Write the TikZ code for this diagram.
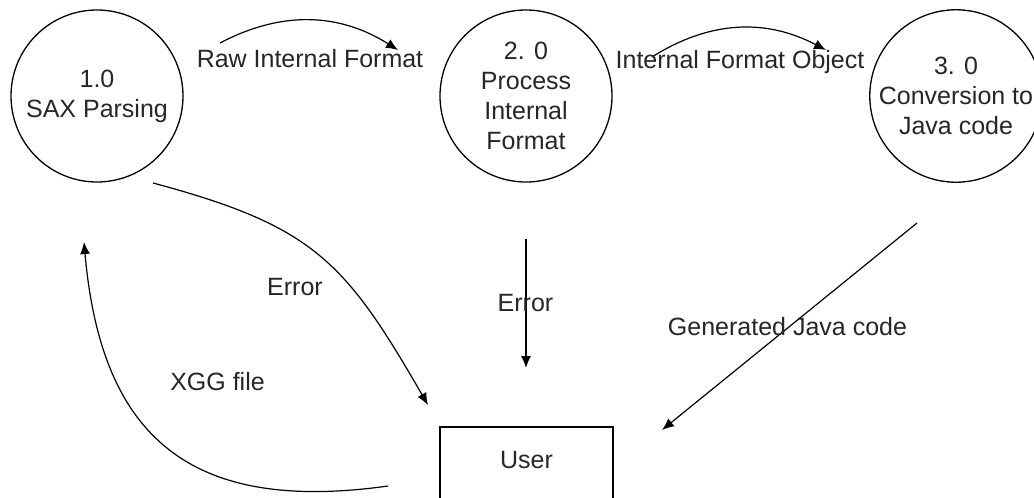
\documentclass[tikz,border=0pt]{standalone}
\usepackage{fontspec}
\setmainfont{Liberation Sans}
\usetikzlibrary{arrows.meta}
\begin{document}
\begin{tikzpicture}[
  x=1pt, y=1pt, font=\fontsize{25}{30}\selectfont, text=black!85,
  proc/.style={draw, circle, line width=1.3pt, minimum size=172pt, inner sep=0pt, align=center},
  ent/.style={draw, line width=1.3pt, minimum width=173pt, minimum height=76pt, text depth=10pt},
  lbl/.style={text height=18pt, text depth=6pt, inner sep=0pt},
  flow/.style={-{Latex[length=12pt,width=10pt]}, line width=1.2pt}
]
\clip (0,0) rectangle (1034,-498);

%% Processes
\node[proc] (sax) at (97,-96) {1.0\\SAX Parsing};
\node[proc] (proc) at (526,-96) {2. 0\\Process\\Internal\\Format};
\node[proc] (conv) at (956,-96) {3. 0\\Conversion to\\Java code};

%% External entity
\node[ent] (user) at (526.5,-465) {User};

%% Flow end points
\coordinate (rawS) at (220,-43);
\coordinate (rawE) at (398,-50);
\coordinate (objS) at (652,-57);
\coordinate (objE) at (826,-50);
\coordinate (errS) at (153,-183);
\coordinate (errE) at (428,-405);
\coordinate (perrS) at (526,-239);
\coordinate (perrE) at (526,-368);
\coordinate (javaS) at (917,-223);
\coordinate (javaE) at (662,-430);
\coordinate (xggS) at (388,-486);
\coordinate (xggE) at (84,-242);

%% Flows
\draw[flow] (rawS) to[bend left=30] (rawE);
\draw[flow] (objS) to[bend left=30] (objE);
\draw[flow] (errS) to[out=-15, in=120, looseness=1.2] (errE);
\draw[flow] (perrS) -- (perrE);
\draw[flow] (javaS) -- (javaE);
\draw[flow] (xggS) to[out=188, in=-85, looseness=1.3] (xggE);

%% Flow labels
\node[lbl] (rawlbl) at (310,-61) {Raw Internal Format};
\node[lbl] (objlbl) at (740,-62) {Internal Format Object};
\node[lbl] (errlbl) at (295,-289) {Error};
\node[lbl] (perrlbl) at (525.5,-305) {Error};
\node[lbl] (javalbl) at (787.5,-329) {Generated Java code};
\node[lbl] (xgglbl) at (217.5,-384) {XGG file};
\end{tikzpicture}
\end{document}
